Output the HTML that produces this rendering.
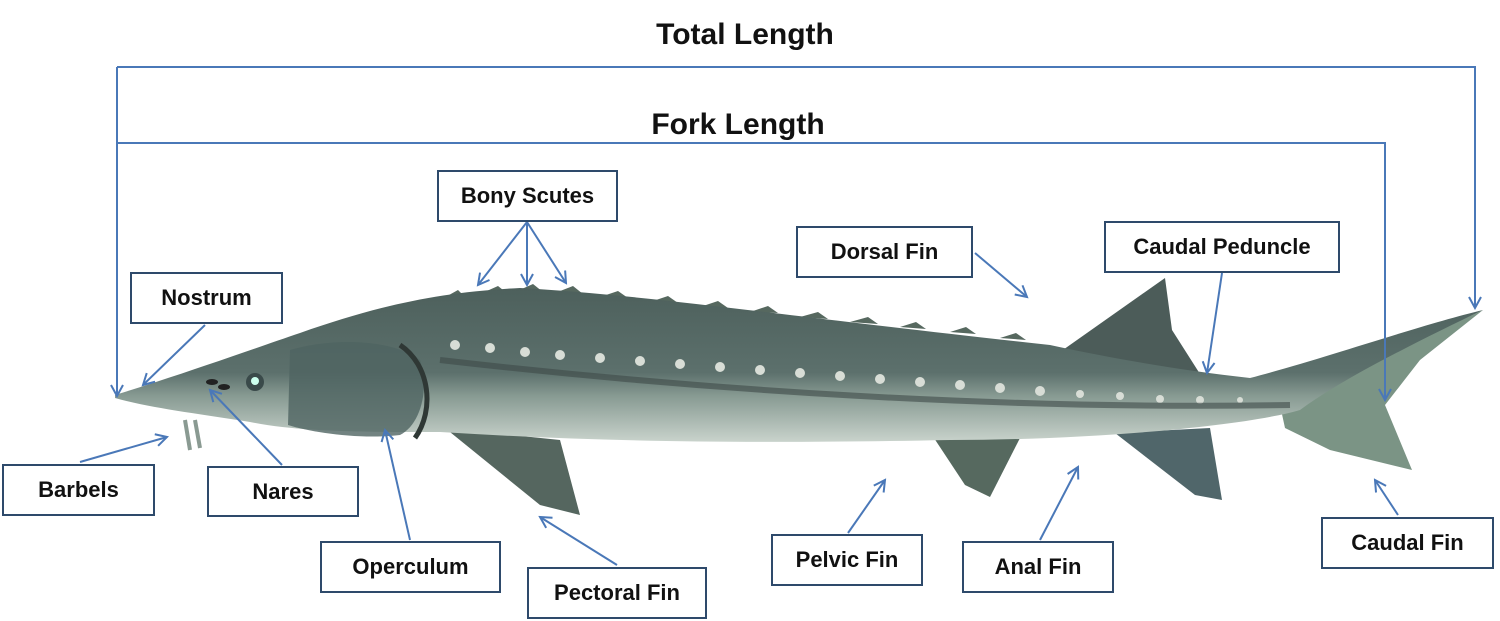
<!DOCTYPE html>
<html><head><meta charset="utf-8"><style>
html,body{margin:0;padding:0;background:#fff;}
body{width:1500px;height:621px;overflow:hidden;position:relative;font-family:"Liberation Sans",sans-serif;}
.b{position:absolute;border:2px solid #2e4a6b;background:#fff;box-sizing:border-box;display:flex;align-items:center;justify-content:center;font-weight:bold;font-size:22px;color:#111;}
.t{position:absolute;font-weight:bold;font-size:30px;color:#111;transform:translateX(-50%);white-space:nowrap;}
svg{position:absolute;left:0;top:0;}
</style></head><body>
<svg width="1500" height="621" viewBox="0 0 1500 621">
<defs>
<linearGradient id="g" x1="0" y1="0" x2="0" y2="1">
<stop offset="0" stop-color="#4d605c"/><stop offset="0.55" stop-color="#5c706c"/><stop offset="0.7" stop-color="#879a92"/><stop offset="1" stop-color="#c9d3cc"/>
</linearGradient>
<marker id="a" markerWidth="14" markerHeight="14" refX="12" refY="7" orient="auto" markerUnits="userSpaceOnUse"><path d="M1,1 L12,7 L1,13" fill="none" stroke="#4a78b8" stroke-width="2"/></marker>
</defs>
<polygon points="1060,352 1165,278 1172,330 1200,374 1120,372" fill="#4c5c59"/>
<polygon points="445,428 560,440 580,515 540,505" fill="#55665f"/>
<polygon points="930,432 1020,438 990,497 965,485" fill="#56695f"/>
<polygon points="1115,433 1210,428 1222,500 1195,495" fill="#50666a"/>
<polygon points="1280,405 1483,310 1420,360 1385,405 1412,470 1330,450 1285,428" fill="#7b9485"/>
<!-- dorsal scute teeth -->
<g fill="#56685f">
<path d="M440,300 l18,-10 l10,10 Z"/><path d="M480,294 l18,-8 l10,8 Z"/><path d="M515,292 l18,-8 l10,8 Z"/><path d="M555,293 l18,-7 l10,8 Z"/><path d="M600,297 l18,-6 l10,7 Z"/><path d="M650,302 l18,-6 l10,7 Z"/><path d="M700,307 l18,-6 l10,7 Z"/><path d="M750,312 l18,-6 l10,7 Z"/><path d="M800,317 l18,-5 l10,7 Z"/><path d="M850,322 l18,-5 l10,7 Z"/><path d="M900,327 l16,-5 l10,7 Z"/><path d="M950,332 l16,-5 l10,7 Z"/><path d="M1000,338 l16,-5 l10,7 Z"/>
</g>
<path d="M115,395 C180,375 250,350 300,333 C380,305 440,292 520,288 C650,295 800,318 1050,345 C1120,360 1180,370 1250,378 C1320,360 1420,325 1483,310 C1420,340 1340,380 1300,410 C1250,425 1100,440 950,440 C750,444 600,442 440,432 C360,432 300,432 250,422 C200,414 150,408 115,398 Z" fill="url(#g)"/>
<path d="M290,350 C330,338 390,338 420,360 C430,390 420,425 400,435 C360,440 310,432 288,425 Z" fill="#4f6462" opacity="0.8"/>
<path d="M400,345 C430,365 435,410 415,438" fill="none" stroke="#2f3835" stroke-width="5"/>
<g fill="#d8ddd6">
<circle cx="455" cy="345" r="5"/><circle cx="490" cy="348" r="5"/><circle cx="525" cy="352" r="5"/><circle cx="560" cy="355" r="5"/><circle cx="600" cy="358" r="5"/><circle cx="640" cy="361" r="5"/><circle cx="680" cy="364" r="5"/><circle cx="720" cy="367" r="5"/><circle cx="760" cy="370" r="5"/><circle cx="800" cy="373" r="5"/><circle cx="840" cy="376" r="5"/><circle cx="880" cy="379" r="5"/><circle cx="920" cy="382" r="5"/><circle cx="960" cy="385" r="5"/><circle cx="1000" cy="388" r="5"/><circle cx="1040" cy="391" r="5"/><circle cx="1080" cy="394" r="4"/><circle cx="1120" cy="396" r="4"/><circle cx="1160" cy="399" r="4"/><circle cx="1200" cy="400" r="4"/><circle cx="1240" cy="400" r="3"/>
</g>
<path d="M440,360 C700,390 1000,410 1290,405" fill="none" stroke="#3d4a47" stroke-width="6" opacity="0.6"/>
<circle cx="255" cy="382" r="9" fill="#3a4a4a"/><circle cx="255" cy="381" r="4" fill="#cfe"/>
<ellipse cx="212" cy="382" rx="6" ry="3" fill="#222"/><ellipse cx="224" cy="387" rx="6" ry="3" fill="#222"/>
<path d="M185,420 L190,450 M195,420 L200,448" stroke="#8a9a92" stroke-width="4"/>
<g stroke="#4a78b8" stroke-width="2" fill="none">
<polyline points="117,67 1475,67 1475,308" marker-end="url(#a)"/>
<line x1="117" y1="67" x2="117" y2="396" marker-end="url(#a)"/>
<polyline points="117,143 1385,143 1385,400" marker-end="url(#a)"/>
<line x1="527" y1="222" x2="478" y2="285" marker-end="url(#a)"/>
<line x1="527" y1="222" x2="527" y2="285" marker-end="url(#a)"/>
<line x1="527" y1="222" x2="566" y2="283" marker-end="url(#a)"/>
<line x1="975" y1="253" x2="1027" y2="297" marker-end="url(#a)"/>
<line x1="1222" y1="273" x2="1207" y2="373" marker-end="url(#a)"/>
<line x1="205" y1="325" x2="143" y2="385" marker-end="url(#a)"/>
<line x1="80" y1="462" x2="167" y2="437" marker-end="url(#a)"/>
<line x1="282" y1="465" x2="210" y2="390" marker-end="url(#a)"/>
<line x1="410" y1="540" x2="385" y2="430" marker-end="url(#a)"/>
<line x1="617" y1="565" x2="540" y2="517" marker-end="url(#a)"/>
<line x1="848" y1="533" x2="885" y2="480" marker-end="url(#a)"/>
<line x1="1040" y1="540" x2="1078" y2="467" marker-end="url(#a)"/>
<line x1="1398" y1="515" x2="1375" y2="480" marker-end="url(#a)"/>
</g>
</svg>
<div class="t" style="left:745px;top:18px;">Total Length</div>
<div class="t" style="left:738px;top:108px;">Fork Length</div>
<div class="b" style="left:437px;top:170px;width:181px;height:52px;">Bony Scutes</div>
<div class="b" style="left:796px;top:226px;width:177px;height:52px;">Dorsal Fin</div>
<div class="b" style="left:1104px;top:221px;width:236px;height:52px;">Caudal Peduncle</div>
<div class="b" style="left:130px;top:272px;width:153px;height:52px;">Nostrum</div>
<div class="b" style="left:2px;top:464px;width:153px;height:52px;">Barbels</div>
<div class="b" style="left:207px;top:466px;width:152px;height:51px;">Nares</div>
<div class="b" style="left:320px;top:541px;width:181px;height:52px;">Operculum</div>
<div class="b" style="left:527px;top:567px;width:180px;height:52px;">Pectoral Fin</div>
<div class="b" style="left:771px;top:534px;width:152px;height:52px;">Pelvic Fin</div>
<div class="b" style="left:962px;top:541px;width:152px;height:52px;">Anal Fin</div>
<div class="b" style="left:1321px;top:517px;width:173px;height:52px;">Caudal Fin</div>
</body></html>
